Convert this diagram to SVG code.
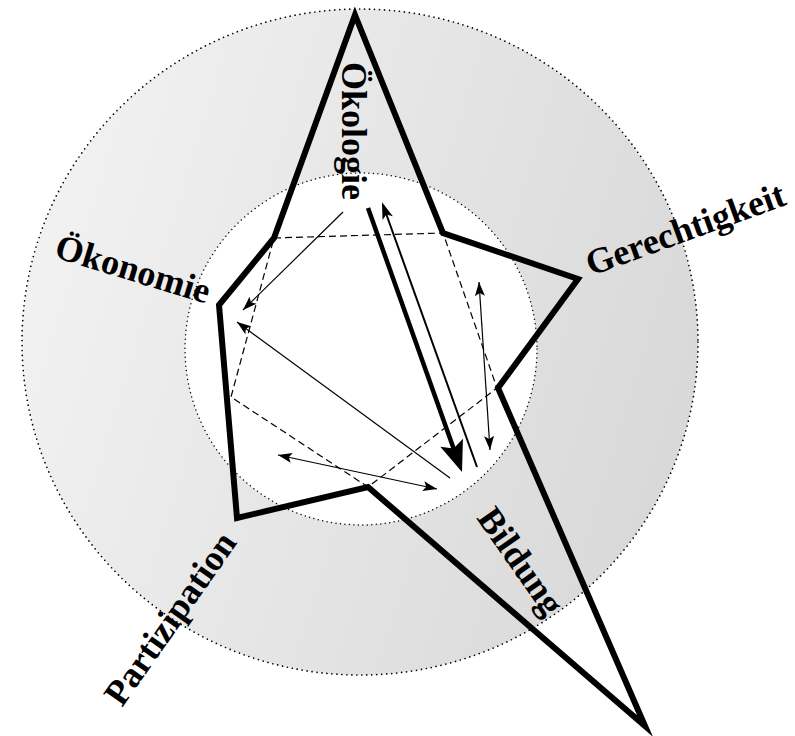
<svg xmlns="http://www.w3.org/2000/svg" width="795" height="736" viewBox="0 0 795 736">
<defs>
<linearGradient id="ring" x1="0" y1="0.2" x2="1" y2="0.5">
<stop offset="0" stop-color="#f3f3f3"/>
<stop offset="1" stop-color="#d9d9d9"/>
</linearGradient>
<marker id="ah" markerUnits="userSpaceOnUse" viewBox="-15 -6 16 12" markerWidth="16" markerHeight="12" refX="0" refY="0" orient="auto-start-reverse"><path d="M0,0 L-14,-5 L-11,0 L-14,5 Z" fill="#000"/></marker>
<marker id="ahm" markerUnits="userSpaceOnUse" viewBox="-18 -7 19 14" markerWidth="19" markerHeight="14" refX="-3" refY="0" orient="auto"><path d="M0,0 L-17,-5.5 L-13,0 L-17,5.5 Z" fill="#000"/></marker>
<marker id="ahb" markerUnits="userSpaceOnUse" viewBox="-33 -14 34 28" markerWidth="34" markerHeight="28" refX="-20" refY="0" orient="auto"><path d="M0,0 L-31,-12 L-25,0 L-31,12 Z" fill="#000"/></marker>
</defs>
<style>
.lbl{font-family:"Liberation Serif","Times New Roman",serif;font-weight:bold;font-size:36px;fill:#000}
.dot{stroke:#000;stroke-linecap:round}
.thin{stroke:#000;stroke-width:1.2;fill:none}
.dash{stroke:#000;stroke-width:1.2;fill:none;stroke-dasharray:7 4}
</style>
<rect width="795" height="736" fill="#fff"/>
<g id="rings">
<ellipse cx="360" cy="342" rx="338" ry="333" fill="url(#ring)" class="dot" stroke-width="1.7" stroke-dasharray="0 5"/>
<circle cx="361" cy="349" r="176" fill="#fff" class="dot" stroke-width="1.5" stroke-dasharray="0 4.5"/>
</g>
<g id="connectors">
<polygon class="dash" points="274,238 443,233 497,388 368,487 231,397"/>
<line class="thin" x1="343" y1="212" x2="243" y2="310" marker-end="url(#ah)"/>
<line class="thin" x1="450" y1="478" x2="237" y2="322" marker-end="url(#ah)"/>
<line stroke="#000" stroke-width="4.5" x1="368" y1="208" x2="455.3" y2="453.2" marker-end="url(#ahb)"/>
<line stroke="#000" stroke-width="2" x1="477" y1="467" x2="383" y2="205" marker-end="url(#ahm)"/>
<line class="thin" x1="479" y1="282" x2="490" y2="450" marker-start="url(#ah)" marker-end="url(#ah)"/>
<line class="thin" x1="278" y1="455" x2="437" y2="489" marker-start="url(#ah)" marker-end="url(#ah)"/>
</g>
<g id="profile">
<polygon points="355,15 443,233 578,279 498,388 645,726 368,487 237,518 219,305 274,238" fill="none" stroke="#000" stroke-width="6" stroke-linejoin="miter" stroke-miterlimit="10"/>
</g>
<g id="oekologie"><text class="lbl" transform="translate(342,62) rotate(90)">Ökologie</text></g>
<g id="oekonomie"><text class="lbl" transform="translate(53,257) rotate(17)">Ökonomie</text></g>
<g id="gerechtigkeit"><text class="lbl" transform="translate(591,276) rotate(-20)">Gerechtigkeit</text></g>
<g id="partizipation"><text class="lbl" transform="translate(122,708) rotate(-55)">Partizipation</text></g>
<g id="bildung"><text class="lbl" transform="translate(476,518) rotate(55)">Bildung</text></g>
</svg>
